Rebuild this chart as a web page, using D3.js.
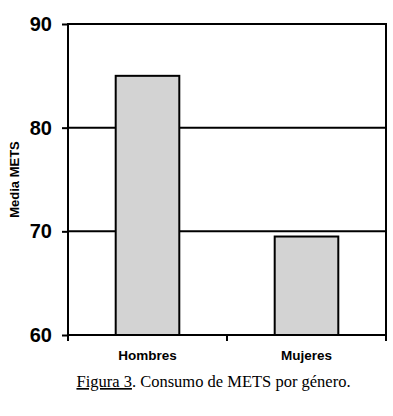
<!DOCTYPE html>
<html><head><meta charset="utf-8">
<script src="https://cdn.jsdelivr.net/npm/d3@7/dist/d3.min.js"></script>
<style>body{margin:0;background:#fff;}svg{display:block;}</style>
</head><body>
<script>
const categories = ["Hombres", "Mujeres"];
const values = [85, 69.5];
const yTicks = [60, 70, 80, 90];
const yTitle = "Media METS";
const captionUnderlined = "Figura 3";
const captionRest = ". Consumo de METS por género.";

const W = 393, H = 416;
const svg = d3.select("body").append("svg").attr("width", W).attr("height", H);
const pLeft = 68, pRight = 386, pTop = 24, pBottom = 335;

const x = d3.scaleBand().domain(categories).range([pLeft, pRight]).paddingInner(0.6).paddingOuter(0.3);
const y = d3.scaleLinear().domain([60, 90]).range([pBottom, pTop]);

// gridlines
svg.append("g").selectAll("line").data(yTicks.filter(t => t > 60)).join("line")
  .attr("x1", pLeft).attr("x2", pRight).attr("y1", d => y(d)).attr("y2", d => y(d))
  .attr("stroke", "#000").attr("stroke-width", 2);
// right border
svg.append("line").attr("x1", pRight).attr("x2", pRight).attr("y1", pTop - 1).attr("y2", pBottom)
  .attr("stroke", "#000").attr("stroke-width", 2);

// bars
svg.append("g").selectAll("rect").data(categories).join("rect")
  .attr("x", d => x(d)).attr("width", x.bandwidth())
  .attr("y", (d, i) => y(values[i])).attr("height", (d, i) => y(60) - y(values[i]))
  .attr("fill", "#d3d3d3").attr("stroke", "#000").attr("stroke-width", 2);

// y axis
const yAxis = svg.append("g").attr("transform", `translate(${pLeft},0)`)
  .call(d3.axisLeft(y).tickValues(yTicks).tickSize(6).tickPadding(10).tickFormat(d3.format("d")));
yAxis.select(".domain").attr("stroke", "#000").attr("stroke-width", 2).attr("d", `M0,${pTop - 1}V${pBottom + 1}`);
yAxis.selectAll(".tick line").attr("stroke", "#000").attr("stroke-width", 2);
yAxis.selectAll(".tick text").attr("font-family", "Liberation Sans, Arial, sans-serif")
  .attr("font-weight", "bold").attr("font-size", 20).attr("fill", "#000");

// x axis
const xAxis = svg.append("g").attr("transform", `translate(0,${pBottom})`);
xAxis.append("line").attr("x1", pLeft - 1).attr("x2", pRight + 1).attr("y1", 0).attr("y2", 0)
  .attr("stroke", "#000").attr("stroke-width", 2);
const edges = [pLeft, ...categories.slice(1).map(c => x(c) - x.step() * x.paddingInner() / 2), pRight];
xAxis.selectAll("line.tk").data(edges).join("line").attr("class", "tk")
  .attr("x1", d => d).attr("x2", d => d).attr("y1", 0).attr("y2", 6)
  .attr("stroke", "#000").attr("stroke-width", 2);
xAxis.selectAll("text").data(categories).join("text")
  .attr("x", d => x(d) + x.bandwidth() / 2).attr("y", 25)
  .attr("text-anchor", "middle").attr("font-family", "Liberation Sans, Arial, sans-serif")
  .attr("font-weight", "bold").attr("font-size", 13.5).text(d => d);

// y title
svg.append("text").attr("transform", `translate(19,${(pTop + pBottom) / 2}) rotate(-90)`)
  .attr("text-anchor", "middle").attr("font-family", "Liberation Sans, Arial, sans-serif")
  .attr("font-weight", "bold").attr("font-size", 13).text(yTitle);

// caption
const cap = svg.append("text").attr("x", 213.5).attr("y", 387).attr("text-anchor", "middle")
  .attr("font-family", "Liberation Serif, Times New Roman, serif").attr("font-size", 16.5);
cap.append("tspan").attr("text-decoration", "underline").text(captionUnderlined);
cap.append("tspan").text(captionRest);
</script>
</body></html>
